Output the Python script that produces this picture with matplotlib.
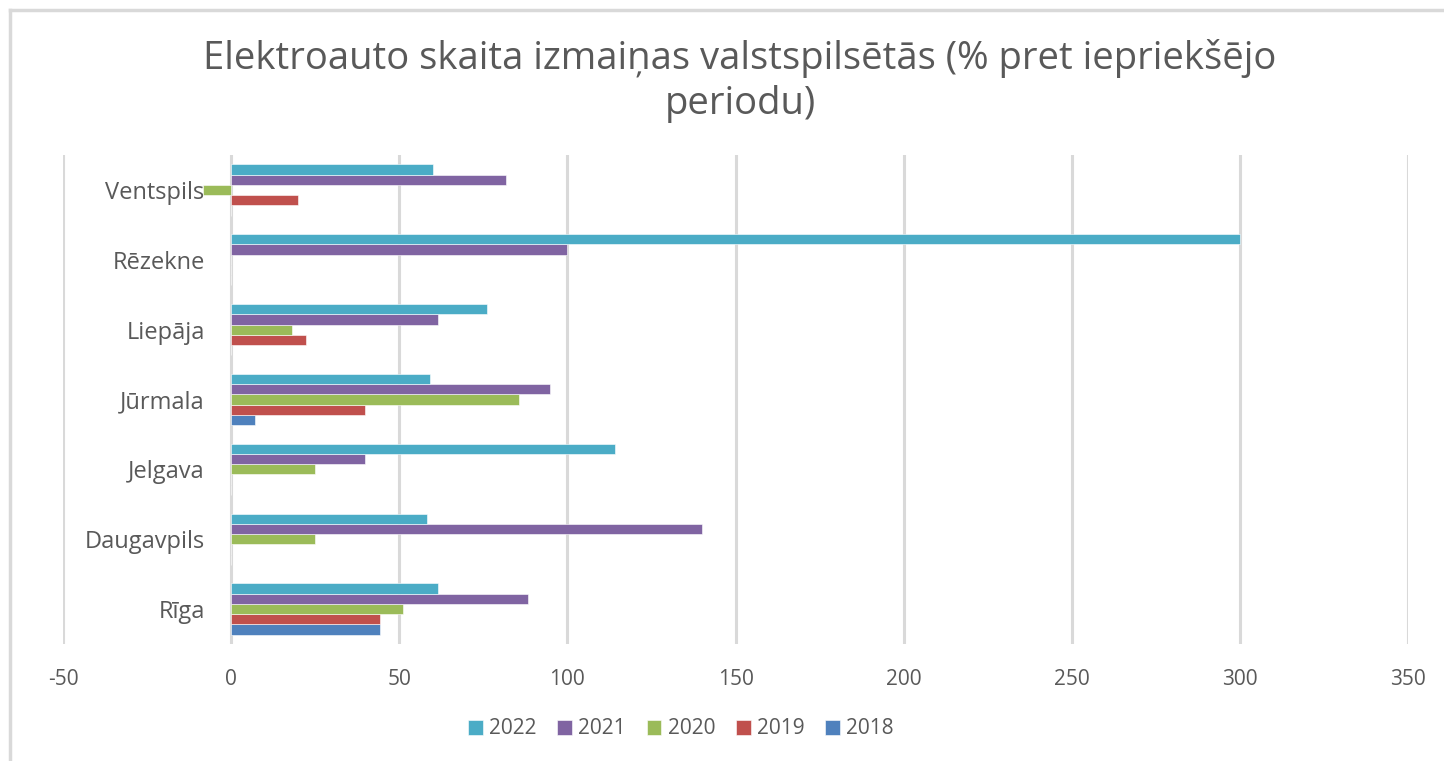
import numpy as np
import matplotlib
matplotlib.use("Agg")
import matplotlib.pyplot as plt
from matplotlib.lines import Line2D

plt.rcParams['font.family'] = ['Open Sans', 'DejaVu Sans']
plt.rcParams['axes.unicode_minus'] = False

# cities from bottom to top
cities = ['Rīga', 'Daugavpils', 'Jelgava', 'Jūrmala', 'Liepāja', 'Rēzekne', 'Ventspils']
years = ['2018', '2019', '2020', '2021', '2022']
colors = ['#4F81BD', '#C0504D', '#9BBB59', '#8064A2', '#4BACC6']

# % change per year (0 = no bar)
v2018 = [44.2, 0, 0, 7.2, 0, 0, 0]
v2019 = [44.2, 0, 0, 39.7, 22.3, 0, 20.0]
v2020 = [51.0, 25.0, 24.9, 85.6, 18.0, 0, -8.3]
v2021 = [88.4, 140.0, 39.7, 94.7, 61.4, 100.0, 81.8]
v2022 = [61.4, 58.2, 114.1, 59.1, 76.2, 300.0, 60.0]
series = [v2018, v2019, v2020, v2021, v2022]

grey = '#595959'

fig = plt.figure(figsize=(14.44, 7.61), dpi=100)
ax = fig.add_axes([63 / 1444, 1 - 644 / 761, (1408 - 63) / 1444, (644 - 155) / 761])

y = np.arange(len(cities))
h = 0.147
for j, (vals, c, yr) in enumerate(zip(series, colors, years)):
    ax.barh(y + (j - 2) * h, vals, height=h, color=c, label=yr,
            edgecolor='white', linewidth=0.4, zorder=3)

ax.set_xlim(-50, 350)
ax.set_ylim(-0.5, len(cities) - 0.5)
ax.set_xticks(np.arange(-50, 351, 50))
ax.set_yticks(y)
ax.set_yticklabels(cities)
ax.grid(axis='x', color='#d9d9d9', linewidth=2.2, zorder=0)
ax.set_axisbelow(True)
for s in ['top', 'right', 'bottom']:
    ax.spines[s].set_visible(False)
# category labels sit next to the zero line, like Excel
ax.spines['left'].set_position(('data', 0))
ax.spines['left'].set_visible(False)
ax.tick_params(axis='y', length=0, pad=19, labelsize=17, labelcolor=grey)
ax.tick_params(axis='x', length=0, pad=18, labelsize=15, labelcolor=grey)

fig.suptitle('Elektroauto skaita izmaiņas valstspilsētās (% pret iepriekšējo\nperiodu)',
             x=740 / 1444, y=1 - 39 / 761, fontsize=27.5, color=grey, linespacing=1.25)

handles, labels = ax.get_legend_handles_labels()
leg = fig.legend(handles[::-1], labels[::-1], loc='center', bbox_to_anchor=(681 / 1444, 1 - 729 / 761),
                 ncol=5, frameon=False, fontsize=15, handlelength=0.7, handleheight=0.7,
                 handletextpad=0.3, columnspacing=1.0)
for t in leg.get_texts():
    t.set_color(grey)

# partial outer border (top and left)
fig.add_artist(Line2D([10 / 1444, 1], [1 - 10 / 761, 1 - 10 / 761], color='#d9d9d9', linewidth=2.5))
fig.add_artist(Line2D([10 / 1444, 10 / 1444], [0, 1 - 10 / 761], color='#d9d9d9', linewidth=2.5))

fig.savefig('out.png', dpi=100)
